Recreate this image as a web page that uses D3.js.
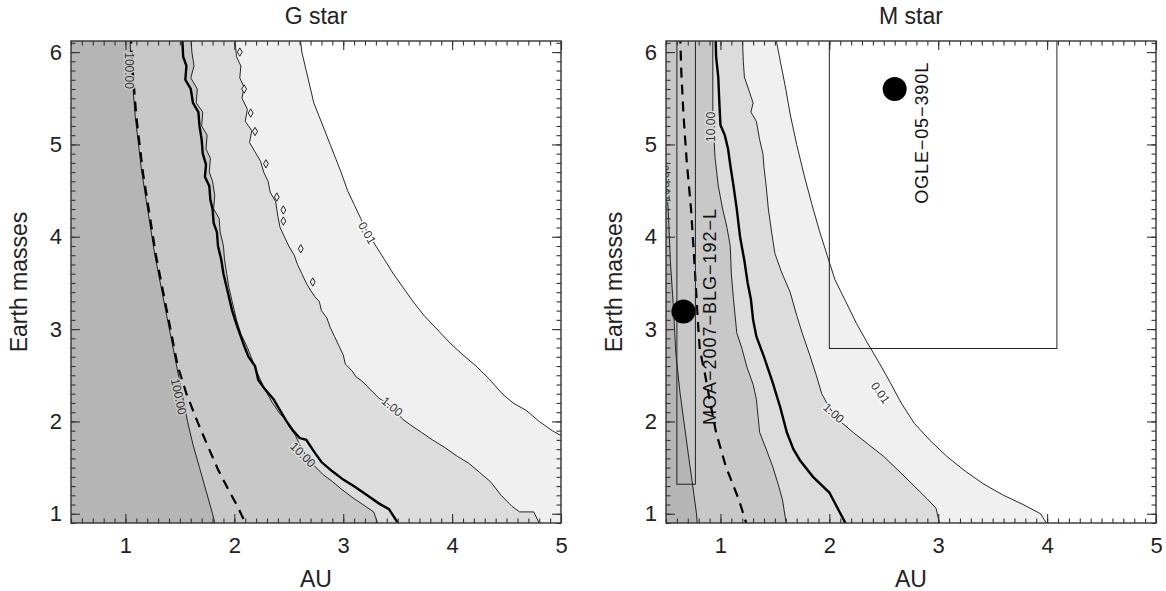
<!DOCTYPE html>
<html>
<head>
<meta charset="utf-8">
<script src="https://cdnjs.cloudflare.com/ajax/libs/d3/7.8.5/d3.min.js"></script>
<style>
body { margin: 0; background: #fff; }
text { font-family: "Liberation Sans", Arial, Helvetica, sans-serif; }
</style>
</head>
<body>
<svg id="chart" width="1166" height="591"></svg>
<script>
// axes
var xDomain = [0.5, 5];
var yDomain = [0.9, 6.12];
var xTicks = [1, 2, 3, 4, 5];
var yTicks = [1, 2, 3, 4, 5, 6];
var titles = ["G star", "M star"];
var xTitle = "AU";
var yTitle = "Earth masses";

// fill of each band, from the innermost (highest level) outwards
var bandColors = ["#b5b5b5", "#c8c8c8", "#dcdcdc", "#f0f0f0", "#ffffff"];

// ---- G star contours, [AU, Earth masses], read top to bottom ----
var gLine100 = [[1.04,6.2],[1.05,5.9],[1.07,5.6],[1.09,5.3],[1.12,5.0],[1.15,4.7],[1.19,4.4],[1.23,4.1],[1.27,3.8],[1.32,3.5],[1.37,3.2],[1.42,2.9],[1.47,2.6],[1.52,2.3],[1.57,2.0],[1.62,1.75],[1.68,1.5],[1.74,1.25],[1.80,1.0],[1.83,0.85]];
var gDashed = [[1.05,6.2],[1.06,5.9],[1.08,5.6],[1.10,5.3],[1.13,5.0],[1.16,4.7],[1.20,4.4],[1.24,4.1],[1.28,3.8],[1.33,3.5],[1.38,3.2],[1.43,2.9],[1.48,2.6],[1.56,2.3],[1.66,2.0],[1.75,1.75],[1.85,1.48],[1.95,1.25],[2.03,1.08],[2.12,0.85]];
var gThick = [[1.52,6.2],[1.53,5.95],[1.56,5.85],[1.55,5.7],[1.60,5.6],[1.62,5.45],[1.67,5.35],[1.68,5.2],[1.70,5.05],[1.71,4.9],[1.74,4.78],[1.73,4.65],[1.77,4.55],[1.78,4.4],[1.80,4.3],[1.81,4.15],[1.84,4.05],[1.85,3.9],[1.88,3.75],[1.90,3.6],[1.93,3.45],[1.95,3.35],[1.98,3.2],[2.02,3.05],[2.05,2.95],[2.09,2.82],[2.13,2.7],[2.19,2.6],[2.22,2.45],[2.28,2.35],[2.36,2.24],[2.42,2.12],[2.48,2.0],[2.54,1.9],[2.60,1.82],[2.66,1.8],[2.74,1.66],[2.80,1.56],[2.90,1.46],[3.00,1.37],[3.11,1.29],[3.22,1.2],[3.33,1.11],[3.42,1.05],[3.53,0.85]];
var gLine10 = [[1.60,6.2],[1.61,6.0],[1.63,5.85],[1.60,5.72],[1.66,5.6],[1.65,5.45],[1.71,5.35],[1.70,5.2],[1.75,5.1],[1.74,4.95],[1.78,4.85],[1.77,4.7],[1.80,4.6],[1.82,4.45],[1.81,4.3],[1.86,4.2],[1.87,4.05],[1.90,3.9],[1.91,3.75],[1.93,3.6],[1.95,3.45],[1.98,3.3],[2.02,3.1],[2.06,2.95],[2.12,2.8],[2.17,2.65],[2.22,2.5],[2.28,2.35],[2.35,2.2],[2.42,2.08],[2.47,2.02],[2.50,1.95],[2.56,1.85],[2.62,1.7],[2.68,1.6],[2.75,1.5],[2.82,1.42],[2.90,1.35],[2.98,1.27],[3.08,1.18],[3.18,1.1],[3.28,1.02],[3.33,0.85]];
var gLine1 = [[2.00,6.2],[2.02,5.95],[2.06,5.85],[2.05,5.72],[2.09,5.62],[2.07,5.5],[2.12,5.38],[2.10,5.25],[2.16,5.15],[2.14,5.02],[2.19,4.92],[2.24,4.82],[2.27,4.7],[2.31,4.6],[2.33,4.48],[2.38,4.38],[2.40,4.22],[2.42,4.1],[2.46,4.0],[2.50,3.9],[2.55,3.8],[2.58,3.7],[2.62,3.6],[2.66,3.5],[2.70,3.42],[2.74,3.35],[2.78,3.3],[2.80,3.2],[2.85,3.12],[2.88,3.02],[2.92,2.92],[2.96,2.82],[3.00,2.72],[3.02,2.62],[3.08,2.55],[3.12,2.48],[3.17,2.44],[3.22,2.38],[3.27,2.32],[3.33,2.25],[3.40,2.2],[3.47,2.12],[3.55,2.02],[3.62,1.96],[3.72,1.88],[3.82,1.8],[3.93,1.72],[4.05,1.62],[4.15,1.55],[4.25,1.45],[4.35,1.35],[4.45,1.2],[4.55,1.08],[4.62,1.02],[4.75,1.02],[4.82,0.85]];
var gLine001 = [[2.60,6.2],[2.62,6.0],[2.66,5.8],[2.70,5.6],[2.73,5.45],[2.78,5.3],[2.83,5.15],[2.88,5.0],[2.93,4.85],[2.98,4.7],[3.04,4.5],[3.10,4.35],[3.16,4.2],[3.22,4.05],[3.30,3.9],[3.38,3.75],[3.46,3.6],[3.55,3.45],[3.64,3.3],[3.74,3.15],[3.86,3.0],[3.98,2.85],[4.10,2.72],[4.22,2.6],[4.34,2.46],[4.46,2.3],[4.56,2.2],[4.68,2.12],[4.80,2.0],[4.92,1.9],[5.1,1.78]];
// little closed contours of the 1.00 level
var gIslands = [[2.05,6.0],[2.09,5.6],[2.15,5.34],[2.19,5.14],[2.29,4.79],[2.39,4.43],[2.45,4.29],[2.45,4.17],[2.61,3.87],[2.72,3.51]];
var gLabels = [
  {text: "100.00", au: 1.03, mass: 5.8, angle: 90, band: 1},
  {text: "100.00", au: 1.49, mass: 2.27, angle: 78, band: 1},
  {text: "10.00", au: 2.63, mass: 1.64, angle: 45, band: 2},
  {text: "1.00", au: 3.45, mass: 2.16, angle: 40, band: 3},
  {text: "0.01", au: 3.22, mass: 4.04, angle: 60, band: 4}
];

// ---- M star contours ----
var mLine100 = [[0.49,6.2],[0.49,4.9],[0.52,4.3],[0.54,3.74],[0.57,3.2],[0.59,2.74],[0.63,2.3],[0.67,1.95],[0.71,1.6],[0.74,1.35],[0.78,1.0],[0.79,0.85]];
var mDashed = [[0.63,6.2],[0.64,5.8],[0.66,5.33],[0.69,4.82],[0.73,4.30],[0.76,3.74],[0.79,3.14],[0.81,2.78],[0.86,2.5],[0.90,2.24],[0.96,1.88],[1.05,1.51],[1.17,1.15],[1.25,0.85]];
var mThick = [[0.955,6.2],[0.96,5.95],[0.98,5.73],[0.99,5.45],[1.0,5.21],[1.04,5.1],[1.07,4.95],[1.09,4.78],[1.12,4.55],[1.15,4.30],[1.18,4.0],[1.22,3.74],[1.25,3.5],[1.28,3.32],[1.30,3.1],[1.33,2.92],[1.40,2.7],[1.48,2.42],[1.55,2.15],[1.61,1.88],[1.67,1.7],[1.73,1.58],[1.85,1.4],[2.0,1.23],[2.17,0.85]];
var mLine10 = [[0.93,6.2],[0.93,5.6],[0.93,5.33],[0.95,4.86],[0.98,4.55],[1.02,4.30],[1.06,4.1],[1.09,3.90],[1.10,3.6],[1.12,3.32],[1.15,2.96],[1.20,2.78],[1.24,2.60],[1.30,2.4],[1.33,2.24],[1.36,1.88],[1.42,1.7],[1.48,1.51],[1.53,1.32],[1.57,1.15],[1.61,0.85]];
var mLine1 = [[1.20,6.2],[1.21,5.9],[1.22,5.73],[1.30,5.45],[1.28,5.35],[1.33,5.25],[1.36,5.05],[1.39,4.9],[1.40,4.75],[1.42,4.55],[1.44,4.3],[1.47,4.05],[1.50,3.82],[1.56,3.62],[1.64,3.4],[1.70,3.15],[1.75,2.96],[1.82,2.72],[1.88,2.5],[1.93,2.3],[2.00,2.15],[2.10,2.0],[2.22,1.88],[2.36,1.75],[2.50,1.62],[2.65,1.45],[2.78,1.3],[2.90,1.16],[2.98,1.06],[3.02,0.85]];
var mLine001 = [[1.50,6.2],[1.55,5.9],[1.60,5.6],[1.64,5.33],[1.70,5.0],[1.77,4.66],[1.84,4.35],[1.91,4.06],[1.98,3.8],[2.05,3.54],[2.15,3.3],[2.25,3.06],[2.35,2.85],[2.46,2.63],[2.56,2.42],[2.66,2.2],[2.78,1.98],[2.92,1.8],[3.08,1.62],[3.25,1.46],[3.42,1.32],[3.60,1.2],[3.78,1.1],[3.94,1.0],[4.02,0.85]];
var mLabels = [
  {text: "100.00", au: 0.49, mass: 4.58, angle: -92, band: 1},
  {text: "10.00", au: 0.91, mass: 5.19, angle: -90, band: 2},
  {text: "1.00", au: 2.04, mass: 2.09, angle: 42, band: 3},
  {text: "0.01", au: 2.47, mass: 2.31, angle: 55, band: 4}
];

// detected planets and their error boxes
var planetNames = ["MOA\u22122007\u2212BLG\u2212192\u2212L", "OGLE\u221205\u2212390L"];
var planetAU = [0.66, 2.60];
var planetMass = [3.19, 5.60];
var boxAU = [[0.60, 0.77], [2.0, 4.09]];
var boxMass = [[1.32, 6.2], [2.79, 6.2]];
var nameAU = [0.90, 2.85];
var nameMass = [3.13, 5.12];

var svg = d3.select("#chart");

var drawPanel = function(left, title, c, opts)
{
  var plot = { left: left, top: 41, width: 490, height: 482 };

  var x = d3.scaleLinear().domain(xDomain).range([0, plot.width]);
  var y = d3.scaleLinear().domain(yDomain).range([plot.height, 0]);

  var g = svg.append("g")
             .attr("transform", "translate(" + plot.left + "," + plot.top + ")");

  var clipId = "clip" + left;
  g.append("clipPath")
   .attr("id", clipId)
   .append("rect")
   .attr("width", plot.width)
   .attr("height", plot.height);

  var area = g.append("g").attr("clip-path", "url(#" + clipId + ")");

  var line = d3.line()
               .x(function(d){ return x(d[0]); })
               .y(function(d){ return y(d[1]); });

  // bands: darkest everywhere, then each level boundary paints what lies right of it
  area.append("rect")
      .attr("width", plot.width)
      .attr("height", plot.height)
      .attr("fill", bandColors[0]);

  c.bounds.forEach(function(pts, i){
    var last = pts[pts.length - 1];
    var poly = pts.concat([[xDomain[1] + 1, last[1]], [xDomain[1] + 1, yDomain[1] + 1], [pts[0][0], yDomain[1] + 1]]);
    area.append("path")
        .attr("d", line(poly) + "Z")
        .attr("fill", bandColors[i + 1]);
  });

  c.bounds.forEach(function(pts){
    area.append("path")
        .attr("d", line(pts))
        .attr("fill", "none")
        .attr("stroke", "#111")
        .attr("stroke-width", 0.9);
  });

  area.append("path")
      .attr("d", line(c.thick))
      .attr("fill", "none")
      .attr("stroke", "#000")
      .attr("stroke-width", 2.4);

  area.append("path")
      .attr("d", line(c.dashed))
      .attr("fill", "none")
      .attr("stroke", "#000")
      .attr("stroke-width", 2.2)
      .attr("stroke-dasharray", "10,7");

  if (c.islands) {
    area.selectAll(".island")
        .data(c.islands)
        .enter()
        .append("path")
        .attr("class", "island")
        .attr("transform", function(d){ return "translate(" + x(d[0]) + "," + y(d[1]) + ")"; })
        .attr("d", d3.symbol().type(d3.symbolDiamond).size(20))
        .attr("fill", "#f0f0f0")
        .attr("stroke", "#111")
        .attr("stroke-width", 0.9);
  }

  area.selectAll(".clabel")
      .data(c.labels)
      .enter()
      .append("text")
      .attr("class", "clabel")
      .attr("transform", function(d){ return "translate(" + x(d.au) + "," + y(d.mass) + ") rotate(" + d.angle + ")"; })
      .attr("text-anchor", "middle")
      .attr("dy", "0.35em")
      .attr("font-size", "12px")
      .attr("fill", "#333")
      .attr("stroke", function(d){ return bandColors[d.band]; })
      .attr("stroke-width", 3)
      .attr("paint-order", "stroke")
      .text(function(d){ return d.text; });

  if (opts.planets) {
    planetNames.forEach(function(name, i){
      area.append("rect")
          .attr("x", x(boxAU[i][0]))
          .attr("y", y(boxMass[i][1]))
          .attr("width", x(boxAU[i][1]) - x(boxAU[i][0]))
          .attr("height", y(boxMass[i][0]) - y(boxMass[i][1]))
          .attr("fill", "none")
          .attr("stroke", "#222")
          .attr("stroke-width", 1);

      area.append("circle")
          .attr("cx", x(planetAU[i]))
          .attr("cy", y(planetMass[i]))
          .attr("r", 12)
          .attr("fill", "#000");

      area.append("text")
          .attr("transform", "translate(" + x(nameAU[i]) + "," + y(nameMass[i]) + ") rotate(-90)")
          .attr("text-anchor", "middle")
          .attr("dy", "0.36em")
          .attr("font-size", "18px")
          .attr("fill", "#111")
          .attr("textLength", i == 0 ? 216 : 141)
          .attr("lengthAdjust", "spacing")
          .text(name);
    });
  }

  // ticks, pointing inwards on all four sides
  var minorX = d3.range(5, 51).map(function(d){ return d / 10; });
  var minorY = d3.range(9, 62).map(function(d){ return d / 10; });

  var axes = [
    [d3.axisBottom(x), minorX, xTicks, "translate(0," + plot.height + ")", true, 14],
    [d3.axisTop(x), minorX, xTicks, "translate(0,0)", false, 3],
    [d3.axisLeft(y), minorY, yTicks, "translate(0,0)", true, 9],
    [d3.axisRight(y), minorY, yTicks, "translate(" + plot.width + ",0)", false, 3]
  ];

  axes.forEach(function(a){
    g.append("g")
     .attr("class", "minor")
     .attr("transform", a[3])
     .call(a[0].tickValues(a[1]).tickSize(-4.5).tickFormat(""));

    g.append("g")
     .attr("class", "major")
     .attr("transform", a[3])
     .call(a[0].tickValues(a[2]).tickSize(-9).tickPadding(a[5]).tickFormat(a[4] ? d3.format("d") : ""));
  });

  g.selectAll(".domain").remove();
  g.selectAll(".tick line").attr("stroke", "#333").attr("stroke-width", 1.1);
  g.selectAll(".tick text")
   .attr("font-size", "22px")
   .attr("font-family", "Liberation Sans, Arial, sans-serif")
   .attr("fill", "#222");

  g.append("rect")
   .attr("width", plot.width)
   .attr("height", plot.height)
   .attr("fill", "none")
   .attr("stroke", "#333")
   .attr("stroke-width", 1.4);

  svg.append("text")
     .attr("x", plot.left + plot.width / 2)
     .attr("y", 24)
     .attr("text-anchor", "middle")
     .attr("font-size", "23px")
     .attr("fill", "#222")
     .text(title);

  svg.append("text")
     .attr("x", plot.left + plot.width / 2)
     .attr("y", 587)
     .attr("text-anchor", "middle")
     .attr("font-size", "23px")
     .attr("fill", "#222")
     .text(xTitle);

  svg.append("text")
     .attr("transform", "translate(" + (plot.left - 44) + "," + (plot.top + plot.height / 2) + ") rotate(-90)")
     .attr("text-anchor", "middle")
     .attr("font-size", "23px")
     .attr("fill", "#222")
     .text(yTitle);
};

drawPanel(71, titles[0], {
  bounds: [gLine100, gLine10, gLine1, gLine001],
  thick: gThick,
  dashed: gDashed,
  islands: gIslands,
  labels: gLabels
}, {});

drawPanel(666, titles[1], {
  bounds: [mLine100, mLine10, mLine1, mLine001],
  thick: mThick,
  dashed: mDashed,
  labels: mLabels
}, { planets: true });
</script>
</body>
</html>
